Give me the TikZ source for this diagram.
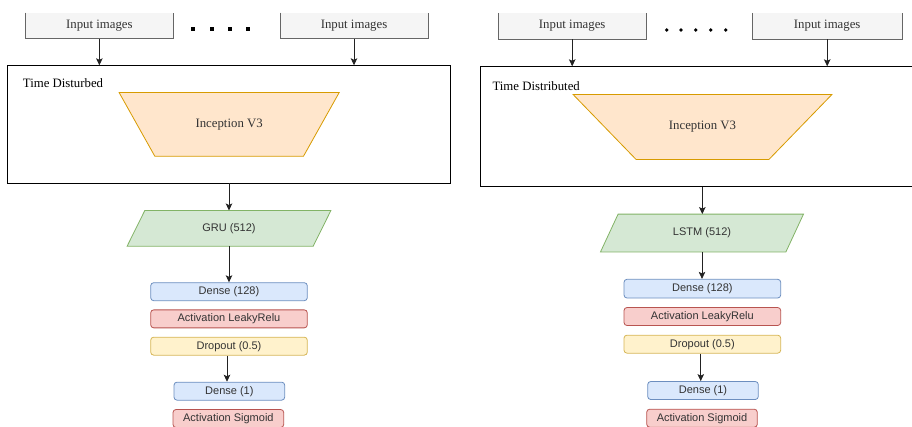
\documentclass[tikz,border=0pt]{standalone}
\usepackage{fontspec}
\setmainfont{Liberation Serif}
\setsansfont{Liberation Sans}
\usetikzlibrary{arrows.meta}
\definecolor{inFill}{HTML}{F5F5F5}
\definecolor{inLine}{HTML}{666666}
\definecolor{txt}{HTML}{333333}
\definecolor{orFill}{HTML}{FFE6CC}
\definecolor{orLine}{HTML}{D79B00}
\definecolor{grFill}{HTML}{D5E8D4}
\definecolor{grLine}{HTML}{82B366}
\definecolor{blFill}{HTML}{DAE8FC}
\definecolor{blLine}{HTML}{6C8EBF}
\definecolor{rdFill}{HTML}{F8CECC}
\definecolor{rdLine}{HTML}{B85450}
\definecolor{ylFill}{HTML}{FFF2CC}
\definecolor{ylLine}{HTML}{D6B656}
\definecolor{arr}{HTML}{222222}
\tikzset{
  inbox/.style={fill=inFill, minimum width=147.5pt, minimum height=25.6pt, inner sep=0pt,
    font=\fontsize{12.8}{14}\selectfont, text=txt},
  outerbox/.style={draw=black, line width=0.8pt, inner sep=0pt},
  lbl/.style={font=\fontsize{12.8}{14}\selectfont, text=black, inner sep=0pt},
  shapebox/.style={inner sep=0pt, font=\fontsize{12.8}{14}\selectfont, text=txt},
  parabox/.style={inner sep=0pt, font=\sffamily\fontsize{11}{13}\selectfont, text=txt},
  layer/.style={rounded corners=3pt, line width=0.8pt, inner sep=0pt,
    font=\sffamily\fontsize{11}{13}\selectfont, text=txt, minimum height=18pt},
  dense/.style={layer, draw=blLine, fill=blFill},
  act/.style={layer, draw=rdLine, fill=rdFill},
  drop/.style={layer, draw=ylLine, fill=ylFill},
  conn/.style={draw=arr, line width=0.8pt, -{Stealth[length=7pt,width=6.5pt,inset=1.5pt]}},
}
\begin{document}
\begin{tikzpicture}[x=1pt,y=-1pt]
\useasboundingbox (0,0) rectangle (912,426);
\clip (0,0) rectangle (912,426);

% ---------------- LEFT PANEL ----------------
\node[inbox] (inL1) at (99.35,25.5) {Input images};
\node[inbox] (inL2) at (354,25.5) {Input images};
\foreach \n in {inL1,inL2}
  \draw[inLine, line width=0.8pt] (\n.north west) -- (\n.south west) -- (\n.south east) -- (\n.north east);
\foreach \x in {193.3,211.7,230,248.3}
  \fill[black] (\x-2,29-2) rectangle (\x+2,29+2);

\node[outerbox, minimum width=443.4pt, minimum height=117.3pt] (outL) at (229,124.35) {};
\node[lbl, anchor=west] (tdL) at (22.7,83) {Time Disturbed};

\node[shapebox, minimum width=219.7pt, minimum height=63.3pt] (incL) at (229.15,124.35) {};
\draw[orLine, fill=orFill, line width=0.8pt] (incL.north west) -- (incL.north east)
  -- ([xshift=-35.7pt]incL.south east) -- ([xshift=35.7pt]incL.south west) -- cycle;
\node[shapebox] at (incL.center) {Inception V3};

\node[parabox, minimum width=185.7pt, minimum height=35.3pt] (gru) at (229,228.35) {};
\draw[grLine, fill=grFill, line width=0.8pt] ([xshift=8.85pt]gru.north west) -- ([xshift=8.85pt]gru.north east)
  -- ([xshift=-8.85pt]gru.south east) -- ([xshift=-8.85pt]gru.south west) -- cycle;
\node[parabox] at (gru.center) {GRU (512)};

\node[dense, minimum width=156.6pt] (dL1) at (229,291.7) {Dense (128)};
\node[act, minimum width=156.6pt] (aL1) at (229,318.85) {Activation LeakyRelu};
\node[drop, minimum width=156.6pt] (drL) at (229,346.15) {Dropout (0.5)};
\node[dense, minimum width=110.7pt] (dL2) at (229.35,391.15) {Dense (1)};
\node[act, minimum width=110.7pt] (aL2) at (228.35,418.5) {Activation Sigmoid};

\draw[conn] (inL1.south) -- (inL1.south |- outL.north);
\draw[conn] (inL2.south) -- (inL2.south |- outL.north);
\draw[conn] (outL.south) -- (outL.south |- gru.north);
\draw[conn] (gru.south) -- (gru.south |- dL1.north);
\draw[conn] ([xshift=-2pt]drL.south) -- ([xshift=-2pt]drL.south |- dL2.north);

% ---------------- RIGHT PANEL ----------------
\node[inbox, minimum height=26pt] (inR1) at (572.2,26) {Input images};
\node[inbox, minimum width=149pt, minimum height=26pt] (inR2) at (827.2,26) {Input images};
\foreach \n in {inR1,inR2}
  \draw[inLine, line width=0.8pt] (\n.north west) -- (\n.south west) -- (\n.south east) -- (\n.north east);
\foreach \x in {666.7,681,695.7,710.7,725.7}
  \fill[black] (\x,30) circle (1.8pt);

\node[outerbox, minimum width=440pt, minimum height=120pt] (outR) at (700.7,126.7) {};
\node[lbl, anchor=west] (tdR) at (492.3,85.7) {Time Distributed};

\node[shapebox, minimum width=258.4pt, minimum height=64.6pt] (incR) at (702.5,127) {};
\draw[orLine, fill=orFill, line width=0.8pt] (incR.north west) -- (incR.north east)
  -- ([xshift=-63pt]incR.south east) -- ([xshift=63pt]incR.south west) -- cycle;
\node[shapebox] at (incR.center) {Inception V3};

\node[parabox, minimum width=185pt, minimum height=37.4pt] (lstm) at (702,233) {};
\draw[grLine, fill=grFill, line width=0.8pt] ([xshift=8.8pt]lstm.north west) -- ([xshift=8.8pt]lstm.north east)
  -- ([xshift=-8.8pt]lstm.south east) -- ([xshift=-8.8pt]lstm.south west) -- cycle;
\node[parabox] at (lstm.center) {LSTM (512)};

\node[dense, minimum width=156.7pt, minimum height=18.7pt] (dR1) at (702.35,288.65) {Dense (128)};
\node[act, minimum width=156.7pt] (aR1) at (702.35,316.5) {Activation LeakyRelu};
\node[drop, minimum width=156.7pt] (drR) at (702.35,344.15) {Dropout (0.5)};
\node[dense, minimum width=110.6pt] (dR2) at (703,390.5) {Dense (1)};
\node[act, minimum width=110.6pt] (aR2) at (702,418.2) {Activation Sigmoid};

\draw[conn] (inR1.south) -- (inR1.south |- outR.north);
\draw[conn] (inR2.south) -- (inR2.south |- outR.north);
\draw[conn] ([xshift=1.6pt]outR.south) -- ([xshift=1.6pt]outR.south |- lstm.north);
\draw[conn] (lstm.south) -- (lstm.south |- dR1.north);
\draw[conn] ([xshift=-1.6pt]drR.south) -- ([xshift=-1.6pt]drR.south |- dR2.north);
\end{tikzpicture}
\end{document}
